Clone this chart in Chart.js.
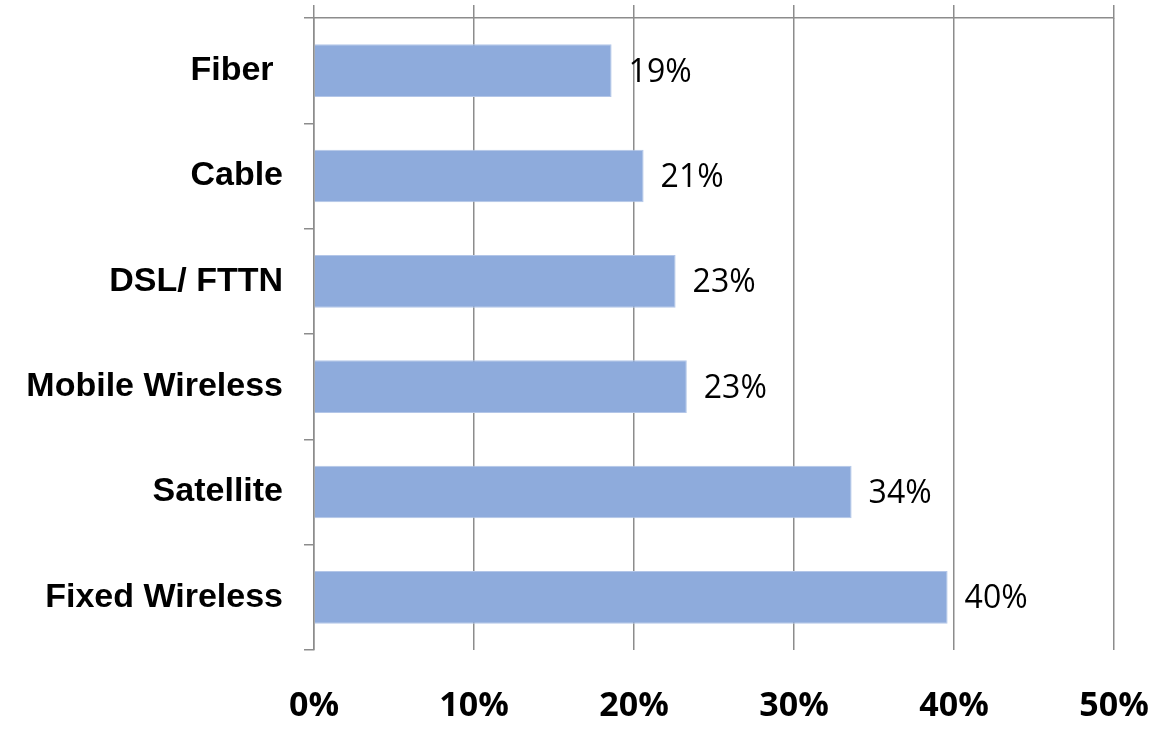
<!DOCTYPE html>
<html>
<head>
<meta charset="utf-8">
<script src="https://cdn.jsdelivr.net/npm/chart.js@4"></script>
<style>
  html, body { margin: 0; padding: 0; background: #fff; }
  #wrap { width: 1165px; height: 729px; }
</style>
</head>
<body>
<div id="wrap"><canvas id="access-chart"></canvas></div>
<script>
const categories = ['Fiber ', 'Cable', 'DSL/ FTTN', 'Mobile Wireless', 'Satellite', 'Fixed Wireless'];
const shares = [18.6, 20.6, 22.6, 23.3, 33.6, 39.6];
const tickValues = [0, 10, 20, 30, 40, 50];

const gridGrey = '#8c8c8c';

// percentage labels to the right of each bar
const valueLabels = {
    id: 'valueLabels',
    afterDatasetsDraw(chart) {
        const ctx = chart.ctx;
        const meta = chart.getDatasetMeta(0);
        ctx.save();
        ctx.font = '32px "Open Sans"';
        ctx.fillStyle = '#000';
        ctx.textAlign = 'left';
        ctx.textBaseline = 'middle';
        meta.data.forEach((bar, i) => {
            ctx.fillText(Math.round(shares[i]) + '%', bar.x + 17, bar.y + 2);
        });
        ctx.restore();
    }
};

// keep the plot area where the layout padding puts it
const noOverhang = (scale) => {
    scale.paddingTop = 0;
    scale.paddingBottom = 0;
    scale.paddingLeft = 0;
    scale.paddingRight = 0;
};

new Chart(document.getElementById('access-chart'), {
    type: 'bar',
    data: {
        labels: categories,
        datasets: [{
            data: shares,
            backgroundColor: '#8eabdc',
            borderColor: '#b3c6e8',
            borderWidth: 1,
            categoryPercentage: 1,
            barPercentage: 0.5
        }]
    },
    options: {
        indexAxis: 'y',
        responsive: true,
        maintainAspectRatio: false,
        animation: false,
        layout: {
            padding: { left: 27, right: 51, top: 5, bottom: 2 }
        },
        plugins: {
            legend: { display: false },
            tooltip: { enabled: false }
        },
        scales: {
            x: {
                position: 'bottom',
                min: 0,
                max: 50,
                afterBuildTicks: (scale) => {
                    scale.ticks = tickValues.map(v => ({ value: v }));
                },
                afterFit: (scale) => {
                    noOverhang(scale);
                    scale.height = 77;
                },
                grid: {
                    color: gridGrey,
                    lineWidth: 1.5,
                    drawTicks: false
                },
                border: { display: false },
                ticks: {
                    padding: 36,
                    maxRotation: 0,
                    color: '#000',
                    font: { family: '"Open Sans"', size: 34, weight: 'bold' },
                    callback: (v) => v + '%'
                }
            },
            xTop: {
                axis: 'x',
                position: 'top',
                min: 0,
                max: 50,
                afterBuildTicks: (scale) => {
                    scale.ticks = tickValues.map(v => ({ value: v }));
                },
                afterFit: noOverhang,
                grid: {
                    color: gridGrey,
                    lineWidth: 1.5,
                    drawOnChartArea: false,
                    drawTicks: true,
                    tickLength: 13
                },
                border: { display: true, color: gridGrey, width: 1.5 },
                ticks: { display: false }
            },
            y: {
                afterFit: (scale) => {
                    noOverhang(scale);
                    scale.width = 287;
                },
                grid: {
                    color: gridGrey,
                    lineWidth: 1.5,
                    offset: true,
                    drawOnChartArea: false,
                    drawTicks: true,
                    tickLength: 10
                },
                border: { display: true, color: gridGrey, width: 1.5 },
                ticks: {
                    padding: 21,
                    color: '#000',
                    font: { family: '"Liberation Sans"', size: 34, weight: 'bold' }
                }
            }
        }
    },
    plugins: [valueLabels]
});
</script>
</body>
</html>
